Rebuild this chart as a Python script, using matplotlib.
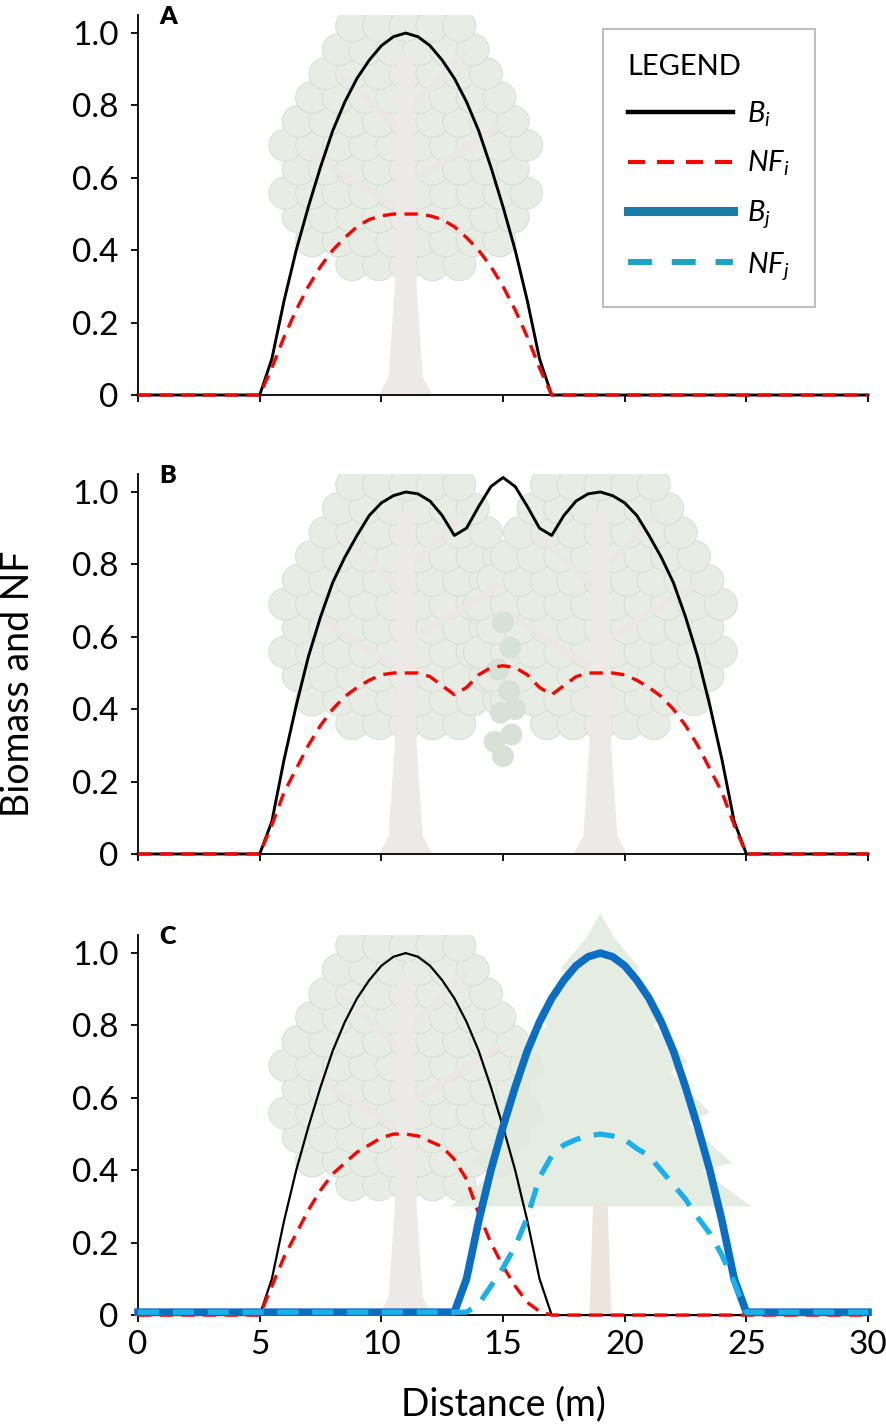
import numpy as np
import matplotlib
matplotlib.use("Agg")
import matplotlib.pyplot as plt
from matplotlib.patches import Ellipse, Polygon
from matplotlib.lines import Line2D

plt.rcParams['font.family'] = ['Lato', 'DejaVu Sans']
plt.rcParams['mathtext.fontset'] = 'custom'
plt.rcParams['mathtext.it'] = 'Lato:italic'
plt.rcParams['mathtext.rm'] = 'Lato'

# ---------------- data ----------------
distance = np.linspace(0, 30, 61)  # 0.5 m steps

# Panel A
a_bi = [0]*10 + [0, 0.10, 0.26, 0.40, 0.52, 0.63, 0.73, 0.81, 0.875, 0.925, 0.965, 0.99, 1.0,
                 0.99, 0.965, 0.925, 0.875, 0.81, 0.73, 0.63, 0.52, 0.40, 0.26, 0.10, 0] + [0]*26
a_nfi = [0]*10 + [0, 0.075, 0.16, 0.235, 0.30, 0.355, 0.40, 0.435, 0.465, 0.485, 0.495, 0.50, 0.50,
                  0.50, 0.495, 0.485, 0.465, 0.435, 0.40, 0.355, 0.30, 0.235, 0.16, 0.075, 0] + [0]*26

# Panel B
b_bi = [0]*10 + [0, 0.09, 0.26, 0.41, 0.545, 0.655, 0.75, 0.82, 0.88, 0.935, 0.97, 0.99, 1.0,
                 0.995, 0.975, 0.935, 0.88, 0.90, 0.96, 1.015, 1.04,
                 1.015, 0.96, 0.90, 0.88, 0.935, 0.975, 0.995, 1.0, 0.99, 0.97,
                 0.935, 0.88, 0.82, 0.75, 0.655, 0.545, 0.41, 0.26, 0.09, 0] + [0]*10
b_nfi = [0]*10 + [0, 0.08, 0.17, 0.235, 0.30, 0.355, 0.40, 0.435, 0.46, 0.48, 0.495, 0.50, 0.50,
                  0.50, 0.49, 0.465, 0.44, 0.46, 0.495, 0.515, 0.52,
                  0.515, 0.495, 0.46, 0.44, 0.465, 0.49, 0.50, 0.50, 0.50, 0.495,
                  0.48, 0.46, 0.435, 0.40, 0.355, 0.30, 0.235, 0.17, 0.08, 0] + [0]*10

# Panel C
c_bi = [0]*10 + [0, 0.10, 0.26, 0.40, 0.52, 0.63, 0.73, 0.81, 0.875, 0.925, 0.965, 0.99, 1.0,
                 0.99, 0.965, 0.925, 0.875, 0.81, 0.73, 0.63, 0.52, 0.40, 0.26, 0.10, 0] + [0]*26
c_nfi = [0]*10 + [0, 0.08, 0.16, 0.225, 0.29, 0.345, 0.39, 0.42, 0.45, 0.47, 0.49, 0.50, 0.50,
                  0.495, 0.48, 0.465, 0.43, 0.375, 0.28, 0.20, 0.135, 0.08, 0.035, 0.01, 0] + [0]*26
c_bj = [0.008]*26 + [0.008, 0.10, 0.26, 0.40, 0.52, 0.63, 0.73, 0.81, 0.875, 0.925, 0.965, 0.99, 1.0,
                     0.99, 0.965, 0.925, 0.875, 0.81, 0.73, 0.63, 0.52, 0.40, 0.26, 0.10, 0.008] + [0.008]*10
c_nfj = [0.008]*28 + [0.03, 0.08, 0.13, 0.19, 0.27, 0.38, 0.44, 0.47, 0.485, 0.495, 0.50,
                      0.495, 0.485, 0.46, 0.44, 0.40, 0.36, 0.32, 0.27, 0.225, 0.165, 0.09, 0.008] + [0.008]*10

panel_letters = ['A', 'B', 'C']
y_ticks = [0, 0.2, 0.4, 0.6, 0.8, 1.0]
y_ticklabels = ['0', '0.2', '0.4', '0.6', '0.8', '1.0']
x_ticks = [0, 5, 10, 15, 20, 25, 30]
x_ticklabels = ['0', '5', '10', '15', '20', '25', '30']
legend_labels = [r'$B_i$', r'$NF_i$', r'$B_j$', r'$NF_j$']

C_BI = '#000000'
C_NFI = '#ff0000'
C_BJ = '#0a6ec4'
C_NFJ = '#1ab0ec'

# ---------------- decorations (background tree silhouettes) ----------------
def canopy_halfwidth(y):
    if y >= 0.52:
        t = (y - 0.52) / 0.56
        return 5.4 * np.sqrt(max(0.0, 1 - t * t))
    t = (0.52 - y) / 0.20
    return 5.4 * np.sqrt(max(0.0, 1 - t * t))


def draw_broadleaf(ax, xc):
    rows = np.arange(0.36, 1.04, 0.066)
    for r, y in enumerate(rows):
        hw = canopy_halfwidth(y)
        offs = 0.55 if r % 2 else 0.0
        for dx in np.arange(-6.6, 6.7, 1.1) + offs:
            if abs(dx) <= hw:
                ax.add_patch(Ellipse((xc + dx, y), 1.35, 0.088, fc='#e7ede5', ec='#d9e1d7',
                                     lw=0.8, zorder=0.5))
    for (x0, y0, x1, y1) in [(0, 0.50, -3.8, 0.66), (0, 0.58, 3.8, 0.74),
                             (0, 0.72, -2.6, 0.88), (0, 0.78, 2.4, 0.94)]:
        ax.plot([xc + x0, xc + x1], [y0, y1], color='#ebe7e4', lw=5, zorder=0.55,
                solid_capstyle='round')
    ax.add_patch(Polygon([(xc - 1.1, 0), (xc - 0.7, 0.05), (xc - 0.45, 0.3), (xc - 0.33, 0.95),
                          (xc + 0.33, 0.95), (xc + 0.45, 0.3), (xc + 0.7, 0.05), (xc + 1.1, 0)],
                         closed=True, fc='#ede9e6', ec='none', zorder=0.6))


def draw_conifer(ax, xc):
    left = [(-6.2, 0.30), (-4.2, 0.40), (-5.4, 0.42), (-3.6, 0.53), (-4.5, 0.56), (-2.9, 0.67),
            (-3.6, 0.70), (-2.2, 0.80), (-2.6, 0.83), (-1.4, 0.93), (-1.6, 0.96), (-0.6, 1.04)]
    pts = [(xc + dx, y) for dx, y in left] + [(xc, 1.11)] + [(xc - dx, y) for dx, y in reversed(left)]
    ax.add_patch(Polygon(pts, closed=True, fc='#e3ebdf', ec='none', alpha=0.9, zorder=0.5,
                         clip_on=False))
    ax.add_patch(Polygon([(xc - 0.45, 0), (xc - 0.3, 0.31), (xc + 0.3, 0.31), (xc + 0.45, 0)],
                         closed=True, fc='#ede6dc', ec='none', zorder=0.6))


def draw_seedling(ax, xc):
    for dx, y in [(0.0, 0.64), (0.3, 0.57), (-0.2, 0.51), (0.25, 0.45), (-0.1, 0.39),
                  (0.35, 0.33), (0.0, 0.27), (-0.35, 0.31), (0.5, 0.40)]:
        ax.add_patch(Ellipse((xc + dx, y), 0.9, 0.06, fc='#d8e1d6', ec='none', zorder=0.7))


# ---------------- figure ----------------
fig = plt.figure(figsize=(8.86, 14.24), dpi=100)
left, width, height = 0.1558, 0.8239, 0.2669
bottoms = [0.7226, 0.4003, 0.0765]
axes = [fig.add_axes([left, b, width, height]) for b in bottoms]

for i, ax in enumerate(axes):
    ax.set_xlim(0, 30)
    ax.set_ylim(0, 1.05)
    for s in ['top', 'right']:
        ax.spines[s].set_visible(False)
    for s in ['left', 'bottom']:
        ax.spines[s].set_linewidth(1.3)
    ax.set_yticks(y_ticks)
    ax.set_yticklabels(y_ticklabels)
    ax.set_xticks(x_ticks)
    ax.set_xticklabels(x_ticklabels)
    ax.tick_params(direction='out', length=5, width=1.3, labelsize=24)
    ax.tick_params(axis='y', pad=9)
    ax.tick_params(axis='x', pad=6)
    if i < 2:
        ax.tick_params(labelbottom=False)
    ax.text(0.041, 0.995, panel_letters[i], transform=ax.transAxes, fontsize=18,
            fontweight='heavy', ha='center', va='center')

# decorations
draw_broadleaf(axes[0], 11)
draw_broadleaf(axes[1], 11)
draw_broadleaf(axes[1], 19)
draw_seedling(axes[1], 15)
draw_broadleaf(axes[2], 11)
draw_conifer(axes[2], 19)

# Panel A
axes[0].plot(distance, a_bi, color=C_BI, lw=2.1, zorder=3, clip_on=False)
axes[0].plot(distance, a_nfi, color=C_NFI, lw=2.4, dashes=(4, 2.5), zorder=4, clip_on=False)
# Panel B
axes[1].plot(distance, b_bi, color=C_BI, lw=2.1, zorder=3, clip_on=False)
axes[1].plot(distance, b_nfi, color=C_NFI, lw=2.4, dashes=(4, 2.5), zorder=4, clip_on=False)
# Panel C
axes[2].plot(distance, c_bi, color=C_BI, lw=1.6, zorder=3, clip_on=False)
axes[2].plot(distance, c_nfi, color=C_NFI, lw=2.4, dashes=(4, 2.5), zorder=4, clip_on=False)
axes[2].plot(distance, c_bj, color=C_BJ, lw=5.5, zorder=5, clip_on=False)
axes[2].plot(distance, c_nfj, color=C_NFJ, lw=3.8, dashes=(4, 2.6), zorder=6, clip_on=False)

# Legend (panel A)
handles = [Line2D([], [], color='#000000', lw=3.2),
           Line2D([], [], color='#ff0000', lw=3.0, dashes=(4.08, 2.88)),
           Line2D([], [], color='#1a7fa8', lw=6.5),
           Line2D([], [], color='#1aa3c6', lw=4.3, dashes=(4, 3.33))]
leg = axes[0].legend(handles, legend_labels, title='LEGEND', loc='upper left',
                     bbox_to_anchor=(0.637, 0.963), borderaxespad=0, fontsize=21,
                     title_fontsize=21, alignment='left', handlelength=3.6,
                     handletextpad=0.5, labelspacing=0.68, borderpad=0.85,
                     fancybox=False, framealpha=1, edgecolor='#bfbfbf')
leg.get_frame().set_linewidth(1.5)
leg.set_zorder(10)

fig.text(0.020, 0.5197, 'Biomass and NF', rotation=90, fontsize=27, ha='center', va='center')
fig.text(0.568, 0.0063, 'Distance (m)', fontsize=27, ha='center', va='baseline')

fig.savefig('out.png', dpi=100, facecolor='white')
